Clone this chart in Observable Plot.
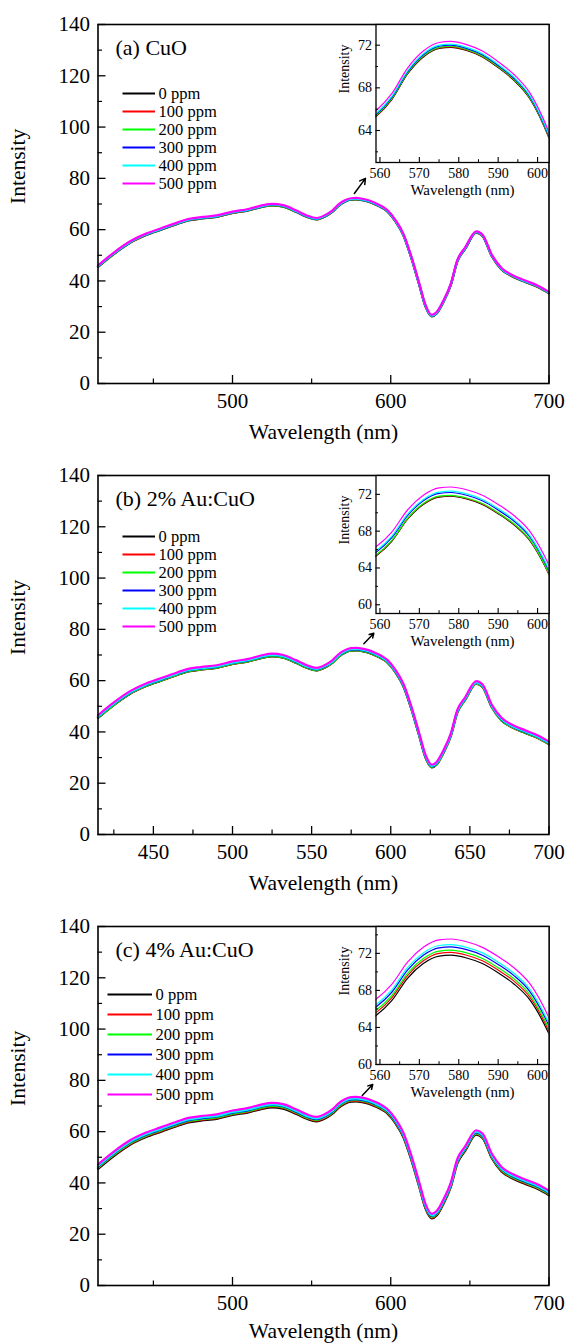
<!DOCTYPE html>
<html><head><meta charset="utf-8">
<script src="https://cdn.jsdelivr.net/npm/d3@7"></script>
<script src="https://cdn.jsdelivr.net/npm/@observablehq/plot@0.6"></script>
<style>
body{margin:0;background:#fff;}
#root{width:574px;position:relative;}
.panel{position:relative;width:574px;overflow:hidden;}
.panel svg{display:block;}
.ov{position:absolute;}
</style></head><body><div id="root"></div>
<script>
const wavelengths = [415,425,435,445,455,465,472,480,490,500,510,518,525,532,540,547,553,559,563,567,571,575,578,582,586,590,594,598,603,608,613,618,622,626,629,633,638,642,647,654,658,664,670,677,685,693,700];

// (a) CuO
const cuo_0   = [45.5,50.5,54.8,57.8,60.0,62.2,63.6,64.3,65.0,66.5,67.5,68.8,69.5,69.0,67.0,65.0,64.0,65.3,66.9,69.3,70.9,71.7,71.8,71.5,70.9,69.9,68.7,67.0,63.2,57.8,49.0,38.5,30.0,26.2,27.3,31.5,38.5,47.5,52.5,58.8,57.5,49.5,44.5,41.7,39.6,37.6,35.2];
const cuo_100 = [45.55,50.55,54.85,57.85,60.05,62.25,63.65,64.35,65.05,66.55,67.55,68.85,69.55,69.05,67.05,65.05,64.05,65.35,66.95,69.35,70.95,71.75,71.85,71.55,70.95,69.95,68.75,67.05,63.25,57.85,49.05,38.55,30.05,26.25,27.35,31.55,38.55,47.55,52.55,58.85,57.55,49.55,44.55,41.75,39.65,37.65,35.25];
const cuo_200 = [45.6,50.6,54.9,57.9,60.1,62.3,63.7,64.4,65.1,66.6,67.6,68.9,69.6,69.1,67.1,65.1,64.1,65.4,67.0,69.4,71.0,71.8,71.9,71.6,71.0,70.0,68.8,67.1,63.3,57.9,49.1,38.6,30.1,26.3,27.4,31.6,38.6,47.6,52.6,58.9,57.6,49.6,44.6,41.8,39.7,37.7,35.3];
const cuo_300 = [45.7,50.7,55.0,58.0,60.2,62.4,63.8,64.5,65.2,66.7,67.7,69.0,69.7,69.2,67.2,65.2,64.2,65.5,67.1,69.5,71.1,71.9,72.0,71.7,71.1,70.1,68.9,67.2,63.4,58.0,49.2,38.7,30.2,26.4,27.5,31.7,38.7,47.7,52.7,59.0,57.7,49.7,44.7,41.9,39.8,37.8,35.4];
const cuo_400 = [45.8,50.8,55.1,58.1,60.3,62.5,63.9,64.6,65.3,66.8,67.8,69.1,69.8,69.3,67.3,65.3,64.3,65.6,67.2,69.6,71.2,72.0,72.1,71.8,71.2,70.2,69.0,67.3,63.5,58.1,49.3,38.8,30.3,26.5,27.6,31.8,38.8,47.8,52.8,59.1,57.8,49.8,44.8,42.0,39.9,37.9,35.5];
const cuo_500 = [46.05,51.05,55.35,58.35,60.55,62.75,64.15,64.85,65.55,67.05,68.05,69.35,70.05,69.55,67.55,65.55,64.55,65.85,67.45,69.85,71.45,72.25,72.35,72.05,71.45,70.45,69.25,67.55,63.75,58.35,49.55,39.05,30.55,26.75,27.85,32.05,39.05,48.05,53.05,59.35,58.05,50.05,45.05,42.25,40.15,38.15,35.75];

// (b) 2% Au:CuO
const au2_0   = [45.5,50.5,54.8,57.8,60.0,62.2,63.6,64.3,65.0,66.5,67.5,68.8,69.5,69.0,67.0,65.0,64.0,65.3,66.9,69.3,70.9,71.7,71.8,71.5,70.9,69.9,68.7,67.0,63.2,57.8,49.0,38.5,30.0,26.2,27.3,31.5,38.5,47.5,52.5,58.8,57.5,49.5,44.5,41.7,39.6,37.6,35.2];
const au2_100 = [45.55,50.55,54.85,57.85,60.05,62.25,63.65,64.35,65.05,66.55,67.55,68.85,69.55,69.05,67.05,65.05,64.05,65.35,66.95,69.35,70.95,71.75,71.85,71.55,70.95,69.95,68.75,67.05,63.25,57.85,49.05,38.55,30.05,26.25,27.35,31.55,38.55,47.55,52.55,58.85,57.55,49.55,44.55,41.75,39.65,37.65,35.25];
const au2_200 = [45.6,50.6,54.9,57.9,60.1,62.3,63.7,64.4,65.1,66.6,67.6,68.9,69.6,69.1,67.1,65.1,64.1,65.4,67.0,69.4,71.0,71.8,71.9,71.6,71.0,70.0,68.8,67.1,63.3,57.9,49.1,38.6,30.1,26.3,27.4,31.6,38.6,47.6,52.6,58.9,57.6,49.6,44.6,41.8,39.7,37.7,35.3];
const au2_300 = [45.9,50.9,55.2,58.2,60.4,62.6,64.0,64.7,65.4,66.9,67.9,69.2,69.9,69.4,67.4,65.4,64.4,65.7,67.3,69.7,71.3,72.1,72.2,71.9,71.3,70.3,69.1,67.4,63.6,58.2,49.4,38.9,30.4,26.6,27.7,31.9,38.9,47.9,52.9,59.2,57.9,49.9,44.9,42.1,40.0,38.0,35.6];
const au2_400 = [46.05,51.05,55.35,58.35,60.55,62.75,64.15,64.85,65.55,67.05,68.05,69.35,70.05,69.55,67.55,65.55,64.55,65.85,67.45,69.85,71.45,72.25,72.35,72.05,71.45,70.45,69.25,67.55,63.75,58.35,49.55,39.05,30.55,26.75,27.85,32.05,39.05,48.05,53.05,59.35,58.05,50.05,45.05,42.25,40.15,38.15,35.75];
const au2_500 = [46.5,51.5,55.8,58.8,61.0,63.2,64.6,65.3,66.0,67.5,68.5,69.8,70.5,70.0,68.0,66.0,65.0,66.3,67.9,70.3,71.9,72.7,72.8,72.5,71.9,70.9,69.7,68.0,64.2,58.8,50.0,39.5,31.0,27.2,28.3,32.5,39.5,48.5,53.5,59.8,58.5,50.5,45.5,42.7,40.6,38.6,36.2];

// (c) 4% Au:CuO
const au4_0   = [45.5,50.5,54.8,57.8,60.0,62.2,63.6,64.3,65.0,66.5,67.5,68.8,69.5,69.0,67.0,65.0,64.0,65.3,66.9,69.3,70.9,71.7,71.8,71.5,70.9,69.9,68.7,67.0,63.2,57.8,49.0,38.5,30.0,26.2,27.3,31.5,38.5,47.5,52.5,58.8,57.5,49.5,44.5,41.7,39.6,37.6,35.2];
const au4_100 = [45.8,50.8,55.1,58.1,60.3,62.5,63.9,64.6,65.3,66.8,67.8,69.1,69.8,69.3,67.3,65.3,64.3,65.6,67.2,69.6,71.2,72.0,72.1,71.8,71.2,70.2,69.0,67.3,63.5,58.1,49.3,38.8,30.3,26.5,27.6,31.8,38.8,47.8,52.8,59.1,57.8,49.8,44.8,42.0,39.9,37.9,35.5];
const au4_200 = [46.05,51.05,55.35,58.35,60.55,62.75,64.15,64.85,65.55,67.05,68.05,69.35,70.05,69.55,67.55,65.55,64.55,65.85,67.45,69.85,71.45,72.25,72.35,72.05,71.45,70.45,69.25,67.55,63.75,58.35,49.55,39.05,30.55,26.75,27.85,32.05,39.05,48.05,53.05,59.35,58.05,50.05,45.05,42.25,40.15,38.15,35.75];
const au4_300 = [46.4,51.4,55.7,58.7,60.9,63.1,64.5,65.2,65.9,67.4,68.4,69.7,70.4,69.9,67.9,65.9,64.9,66.2,67.8,70.2,71.8,72.6,72.7,72.4,71.8,70.8,69.6,67.9,64.1,58.7,49.9,39.4,30.9,27.1,28.2,32.4,39.4,48.4,53.4,59.7,58.4,50.4,45.4,42.6,40.5,38.5,36.1];
const au4_400 = [46.65,51.65,55.95,58.95,61.15,63.35,64.75,65.45,66.15,67.65,68.65,69.95,70.65,70.15,68.15,66.15,65.15,66.45,68.05,70.45,72.05,72.85,72.95,72.65,72.05,71.05,69.85,68.15,64.35,58.95,50.15,39.65,31.15,27.35,28.45,32.65,39.65,48.65,53.65,59.95,58.65,50.65,45.65,42.85,40.75,38.75,36.35];
const au4_500 = [47.25,52.25,56.55,59.55,61.75,63.95,65.35,66.05,66.75,68.25,69.25,70.55,71.25,70.75,68.75,66.75,65.75,67.05,68.65,71.05,72.65,73.45,73.55,73.25,72.65,71.65,70.45,68.75,64.95,59.55,50.75,40.25,31.75,27.95,29.05,33.25,40.25,49.25,54.25,60.55,59.25,51.25,46.25,43.45,41.35,39.35,36.95];

const seriesLabels = ["0 ppm","100 ppm","200 ppm","300 ppm","400 ppm","500 ppm"];
const seriesColors = ["#000000","#ff0000","#00ff00","#0000ff","#00ffff","#ff00ff"];
const panelTitles = ["(a) CuO","(b) 2% Au:CuO","(c) 4% Au:CuO"];

const xMajorAC = [500,600,700];
const xMinorAC = [450,550,650];
const xMajorB = [450,500,550,600,650,700];
const xMinorB = [425,475,525,575,625,675];
const yMajor = [0,20,40,60,80,100,120,140];
const yMinor = [10,30,50,70,90,110,130];

const insetXMajor = [560,570,580,590,600];
const insetXMinor = [565,575,585,595];
const insetYMajorA = [64,68,72];
const insetYMinorA = [62,66,70];
const insetYMajorBC = [60,64,68,72];
const insetYMinorB = [62,66,70];
const insetYMinorC = [62,66,70,74];
const insetYDomainA = [61.0,73.94];
const insetYDomainB = [59.05,74.05];
const insetYDomainC = [60,74.9];

// annotation arrows (from main-curve peak towards the inset), data units
const arrowX1 = [577,583,582];
const arrowY1 = [74.1,74.4,74.1];
const arrowX2 = [584,589.3,588.6];
const arrowY2 = [80.0,78.5,78.4];

const FONT = "'Liberation Serif', 'Times New Roman', serif";

const panels = [
  {title: panelTitles[0], values:[cuo_0,cuo_100,cuo_200,cuo_300,cuo_400,cuo_500], xMajor:xMajorAC, xMinor:xMinorAC,
   iyMajor: insetYMajorA, iyMinor: insetYMinorA, iyDomain: insetYDomainA, h: 451, xlab: 49,
   legLeft: 121.5, legSw: 33, legTop: 93, legStep: 18},
  {title: panelTitles[1], values:[au2_0,au2_100,au2_200,au2_300,au2_400,au2_500], xMajor:xMajorB, xMinor:xMinorB,
   iyMajor: insetYMajorBC, iyMinor: insetYMinorB, iyDomain: insetYDomainB, h: 451, xlab: 49,
   legLeft: 121.5, legSw: 33, legTop: 85, legStep: 18},
  {title: panelTitles[2], values:[au4_0,au4_100,au4_200,au4_300,au4_400,au4_500], xMajor:xMajorAC, xMinor:xMinorAC,
   iyMajor: insetYMajorBC, iyMinor: insetYMinorC, iyDomain: insetYDomainC, h: 442, xlab: 46,
   legLeft: 107, legSw: 45, legTop: 92, legStep: 20}
];

const color = {domain: seriesLabels, range: seriesColors};

function rowsOf(values){
  const rows = [];
  values.forEach((arr,i)=>arr.forEach((v,j)=>rows.push({wl: wavelengths[j], v, s: seriesLabels[i]})));
  return rows;
}

function mainPlot(p, k){
  const W = 574, H = p.h, mL = 97.5, mR = 25.5, mT = 24, mB = H - 383;
  const fw = W - mL - mR, fh = H - mT - mB;
  const arrow = [{x1: arrowX1[k], y1: arrowY1[k], x2: arrowX2[k], y2: arrowY2[k]}];
  return Plot.plot({
    width: W, height: H, marginLeft: mL, marginRight: mR, marginTop: mT, marginBottom: mB,
    x: {domain: [415,700], axis: null},
    y: {domain: [0,140], axis: null},
    color,
    style: {fontFamily: FONT, fontSize: "21px", background: "white", color: "black", overflow: "visible"},
    marks: [
      Plot.line(rowsOf(p.values), {x:"wl", y:"v", z:"s", stroke:"s", strokeWidth: 2.2, curve:"monotone-x"}),
      Plot.tickX(p.xMajor, {x: d=>d, insetTop: fh-8, strokeWidth: 1.3}),
      Plot.tickX(p.xMinor, {x: d=>d, insetTop: fh-4.5, strokeWidth: 1.2}),
      Plot.tickY(yMajor, {y: d=>d, insetRight: fw-8, strokeWidth: 1.3}),
      Plot.tickY(yMinor, {y: d=>d, insetRight: fw-4.5, strokeWidth: 1.2}),
      Plot.frame({stroke:"black", strokeWidth: 1.6}),
      Plot.text(p.xMajor, {x: d=>d, frameAnchor:"bottom", dy: 18, lineAnchor:"middle", fontSize: 21}),
      Plot.text(yMajor, {y: d=>d, frameAnchor:"left", dx: -8, textAnchor:"end", lineAnchor:"middle", fontSize: 21}),
      Plot.text(["Wavelength (nm)"], {frameAnchor:"bottom", dy: p.xlab, lineAnchor:"middle", fontSize: 21.5}),
      Plot.text(["Intensity"], {frameAnchor:"left", dx: -80, rotate: -90, lineAnchor:"middle", fontSize: 21.5}),
      Plot.text([p.title], {frameAnchor:"top-left", dx: 17.5, dy: 23, textAnchor:"start", lineAnchor:"middle", fontSize: 22}),
      Plot.arrow(arrow, {x1:"x1", y1:"y1", x2:"x2", y2:"y2", stroke:"black", strokeWidth: 1.5, headLength: 7})
    ]
  });
}

function insetPlot(p){
  const rows = rowsOf(p.values).filter(d => d.wl >= 550 && d.wl <= 610);
  const W = 220.5, H = 180, mL = 45.5, mR = 2, mT = 2, mB = 40;
  const fw = W - mL - mR, fh = H - mT - mB;
  return Plot.plot({
    width: W, height: H, marginLeft: mL, marginRight: mR, marginTop: mT, marginBottom: mB,
    x: {domain: [559,602.9], axis: null},
    y: {domain: p.iyDomain, axis: null},
    color,
    style: {fontFamily: FONT, fontSize: "14px", background: "transparent", color: "black", overflow: "visible"},
    marks: [
      Plot.frame({fill: "white", stroke: "none"}),
      Plot.line(rows, {x:"wl", y:"v", z:"s", stroke:"s", strokeWidth: 1.2, curve:"monotone-x", clip: true}),
      Plot.tickX(insetXMajor, {x: d=>d, insetTop: fh-5, strokeWidth: 1.1}),
      Plot.tickX(insetXMinor, {x: d=>d, insetTop: fh-2.8, strokeWidth: 1}),
      Plot.tickY(p.iyMajor, {y: d=>d, insetRight: fw-4.5, strokeWidth: 1.1}),
      Plot.tickY(p.iyMinor, {y: d=>d, insetRight: fw-2.5, strokeWidth: 1}),
      Plot.frame({stroke: "black", strokeWidth: 1.3}),
      Plot.text(insetXMajor, {x: d=>d, frameAnchor:"bottom", dy: 11.5, lineAnchor:"middle", fontSize: 14}),
      Plot.text(p.iyMajor, {y: d=>d, frameAnchor:"left", dx: -4, textAnchor:"end", lineAnchor:"middle", fontSize: 14}),
      Plot.text(["Wavelength (nm)"], {frameAnchor:"bottom", dy: 28, lineAnchor:"middle", fontSize: 15}),
      Plot.text(["Intensity"], {frameAnchor:"left", dx: -31, rotate: -90, lineAnchor:"middle", fontSize: 14})
    ]
  });
}

function legendPlot(p){
  const W = 160, mT = 10, mB = 10, H = mT + mB + 5*p.legStep;
  return Plot.plot({
    width: W, height: H, marginLeft: 0.5, marginRight: W - p.legSw, marginTop: mT, marginBottom: mB,
    x: {domain: [0,1], axis: null},
    y: {type: "point", domain: seriesLabels, padding: 0, axis: null},
    color,
    style: {fontFamily: FONT, fontSize: "16px", background: "transparent", color: "black", overflow: "visible"},
    marks: [
      Plot.ruleY(seriesLabels, {y: d=>d, stroke: d=>d, strokeWidth: 2.2}),
      Plot.text(seriesLabels, {y: d=>d, frameAnchor:"right", dx: 3, textAnchor:"start", lineAnchor:"middle", fontSize: 16.5})
    ]
  });
}

const root = document.getElementById("root");
panels.forEach((p,k)=>{
  const div = document.createElement("div");
  div.className = "panel";
  div.style.height = p.h + "px";
  div.appendChild(mainPlot(p,k));
  const ins = insetPlot(p);
  ins.classList.add("ov");
  ins.style.left = "330px"; ins.style.top = "22px";
  div.appendChild(ins);
  const leg = legendPlot(p);
  leg.classList.add("ov");
  leg.style.left = p.legLeft + "px"; leg.style.top = (p.legTop - 10) + "px";
  div.appendChild(leg);
  root.appendChild(div);
});
</script>
</body></html>
